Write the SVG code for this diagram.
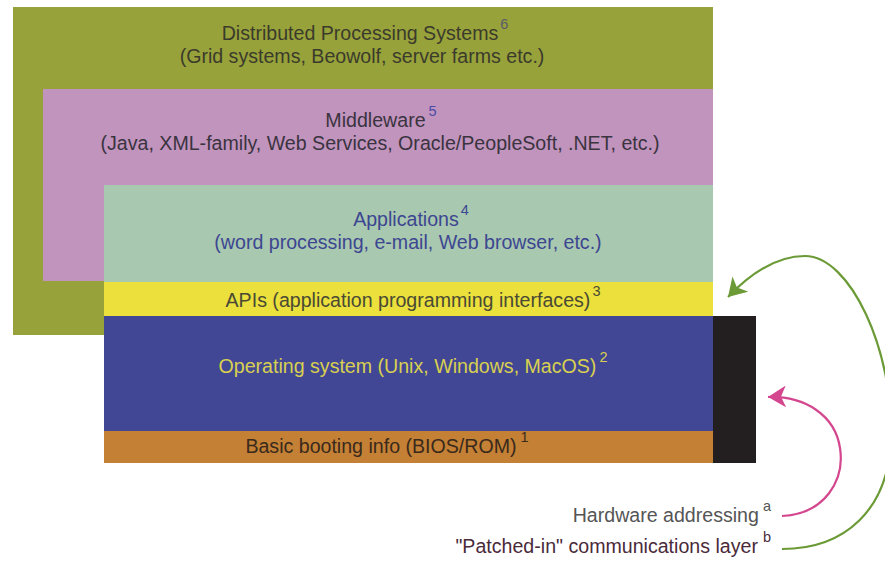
<svg xmlns="http://www.w3.org/2000/svg" width="885" height="561" viewBox="0 0 885 561">
  <style>
    text { font-family: "Liberation Sans", Arial, sans-serif; font-size: 19.6px; }
    .c { text-anchor: middle; }
    .e { text-anchor: end; }
    .sup { font-size: 14.5px; }
    .arrow { fill: none; stroke-width: 2.2; }
  </style>
  <defs>
    <marker id="headGreen" markerWidth="22" markerHeight="22" refX="18" refY="11" orient="auto" markerUnits="userSpaceOnUse">
      <path d="M18,11 L0,0 L5,11 L0,22 Z" fill="#6b9a36"/>
    </marker>
    <marker id="headPink" markerWidth="22" markerHeight="22" refX="18" refY="11" orient="auto" markerUnits="userSpaceOnUse">
      <path d="M18,11 L0,0 L5,11 L0,22 Z" fill="#d4478f"/>
    </marker>
  </defs>

  <rect width="885" height="561" fill="#ffffff"/>

  <!-- Layer 6: distributed processing -->
  <g id="distributed">
    <rect x="13" y="7" width="700" height="328" fill="#98a23a"/>
    <text class="c" x="365" y="40" fill="#3b3b2c">Distributed Processing Systems<tspan class="sup" dx="2" dy="-11" fill="#5a5a6a">6</tspan></text>
    <text class="c" x="362" y="63" fill="#3b3b2c">(Grid systems, Beowolf, server farms etc.)</text>
  </g>

  <!-- Layer 5: middleware -->
  <g id="middleware">
    <rect x="43" y="89" width="670" height="192" fill="#c194bd"/>
    <text class="c" x="381" y="127" fill="#3a3340">Middleware<tspan class="sup" dx="3" dy="-11" fill="#4a4aa8">5</tspan></text>
    <text class="c" x="380" y="150" fill="#3a3340">(Java, XML-family, Web Services, Oracle/PeopleSoft, .NET, etc.)</text>
  </g>

  <!-- Layer 4: applications -->
  <g id="applications">
    <rect x="104" y="185" width="609" height="97" fill="#a8c8b0"/>
    <text class="c" x="411" y="226" fill="#3d4690">Applications<tspan class="sup" dx="2" dy="-11">4</tspan></text>
    <text class="c" x="408" y="249" fill="#3d4690">(word processing, e-mail, Web browser, etc.)</text>
  </g>

  <!-- Layer 3: APIs -->
  <g id="apis">
    <rect x="104" y="282" width="609" height="34" fill="#ebe03c"/>
    <text class="c" x="413" y="307" fill="#4a4a34">APIs (application programming interfaces)<tspan class="sup" dx="2" dy="-11">3</tspan></text>
  </g>

  <!-- Layer 2: operating system -->
  <g id="os">
    <rect x="104" y="316" width="609" height="115" fill="#424795"/>
    <text class="c" x="413" y="373" fill="#d8d050">Operating system (Unix, Windows, MacOS)<tspan class="sup" dx="3" dy="-11">2</tspan></text>
  </g>

  <!-- Layer 1: BIOS -->
  <g id="bios">
    <rect x="104" y="431" width="609" height="32" fill="#c48035"/>
    <text class="c" x="387" y="453" fill="#3a2a1c">Basic booting info (BIOS/ROM)<tspan class="sup" dx="4" dy="-11">1</tspan></text>
  </g>

  <!-- Hardware side block -->
  <g id="hardware">
    <rect x="713" y="316" width="43" height="147" fill="#231f20"/>
  </g>

  <!-- Side labels -->
  <g id="label-a">
    <text class="e" x="771" y="522" fill="#555555">Hardware addressing<tspan class="sup" dx="4" dy="-11">a</tspan></text>
  </g>
  <g id="label-b">
    <text class="e" x="771" y="553" fill="#4a2a3a">"Patched-in" communications layer<tspan class="sup" dx="5" dy="-11">b</tspan></text>
  </g>

  <!-- Connectors -->
  <g id="connectors">
    <path class="arrow" stroke="#d4478f" d="M782,516 C825,514 845,480 840,448 C835,415 805,396 768,397" marker-end="url(#headPink)"/>
    <path class="arrow" stroke="#6b9a36" d="M782,549 C845,549 888,510 891,440 C894,350 850,256 805,256 C775,256 748,276 728,297" marker-end="url(#headGreen)"/>
  </g>
</svg>
